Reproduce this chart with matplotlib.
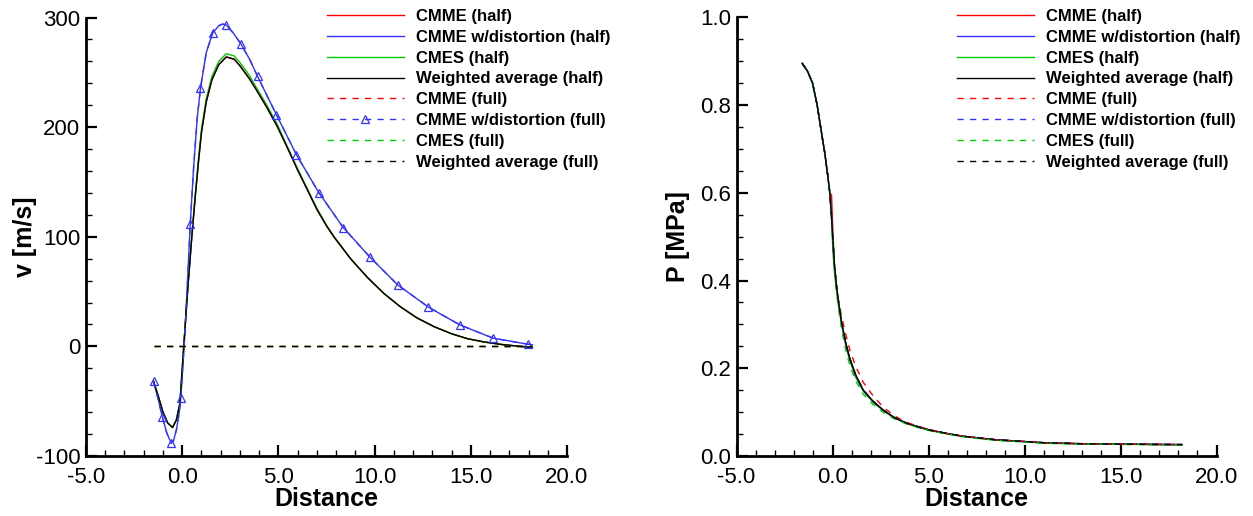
import matplotlib
matplotlib.use("Agg")
import matplotlib.pyplot as plt
from matplotlib.ticker import MultipleLocator, FormatStrFormatter

plt.rcParams['font.family'] = ['Liberation Sans', 'DejaVu Sans']
plt.rcParams['axes.unicode_minus'] = False
plt.rcParams['lines.scale_dashes'] = False

# ---------------- data: velocity ----------------
labels = ["CMME (half)", "CMME w/distortion (half)", "CMES (half)", "Weighted average (half)",
          "CMME (full)", "CMME w/distortion (full)", "CMES (full)", "Weighted average (full)"]

v_x = [-1.49, -1.25, -1.0, -0.75, -0.5, -0.3, -0.12, 0.08, 0.3, 0.5, 0.68, 0.85, 1.0, 1.25, 1.54,
       1.9, 2.29, 2.7, 3.0, 3.5, 3.89, 4.4, 4.93, 5.5, 5.97, 6.5, 7.0, 7.5, 7.88, 8.75, 9.62,
       10.5, 11.35, 12.2, 13.09, 14.0, 14.83, 15.7, 16.56, 17.4, 18.2]
v_wavg_half = [-32, -45, -60, -70, -74, -67, -52, 0, 55, 100, 137, 169, 195, 223, 243,
               257, 264, 262, 256, 244, 233, 218, 201, 180, 162, 143, 125, 110, 100, 80, 63,
               48, 36, 26, 18, 11.5, 7, 4, 1.8, 0.3, -1]
v_cmme_half = [-32, -45, -60, -70, -74, -67, -52, 0, 55, 100, 137, 169, 195, 223, 243,
               257, 264, 262, 256, 244, 233, 218, 201, 180, 162, 143, 125, 110, 100, 80, 63,
               48, 36, 26, 18, 11.5, 7, 4, 1.8, 0.3, -1]
v_cmes_half = [-32, -45, -60, -70, -74, -67, -52, 0, 55, 101, 139, 172, 198, 226, 246,
               260, 267, 265, 259, 247, 235, 220, 203, 181, 163, 144, 126, 110.5, 100.5, 80, 63,
               48, 36, 26, 18, 11.5, 7, 4, 1.8, 0.3, -1]

v_dist_x = [-1.49, -1.25, -1.03, -0.8, -0.57, -0.45, -0.3, -0.15, -0.07, 0.1, 0.25, 0.42, 0.6,
            0.78, 0.95, 1.25, 1.58, 1.9, 2.1, 2.28, 2.65, 3.06, 3.5, 3.92, 4.4, 4.90, 5.94,
            7.10, 8.37, 9.76, 11.2, 12.8, 14.43, 16.16, 17.95, 18.2]
v_dist = [-32, -48, -64.6, -79, -88.3, -86, -76, -60, -46.7, 0, 50, 112, 165,
          208, 235.6, 268, 285.8, 292.5, 294, 293.3, 286, 275.7, 262, 246.2, 229, 211.2, 174.7,
          140.3, 108.4, 81.4, 56.1, 35.8, 19.6, 7.5, 2.0, 1.5]
v_dist_marker_x = [-1.49, -1.03, -0.57, -0.07, 0.42, 0.95, 1.58, 2.28, 3.06, 3.92, 4.90, 5.94,
                   7.10, 8.37, 9.76, 11.2, 12.8, 14.43, 16.16, 17.95]

v_full_x = [-1.49, 18.2]
v_full_zero = [0, 0]

# ---------------- data: pressure ----------------
P_x = [-1.58, -1.3, -1.04, -0.8, -0.57, -0.4, -0.25, -0.14, -0.05, 0.03, 0.1, 0.2, 0.3, 0.47, 0.7,
       0.9, 1.2, 1.6, 2.1, 2.63, 3.2, 3.85, 4.5, 5.07, 6.0, 6.8, 8.5, 10.0, 11.1, 13.0, 15.0,
       16.5, 18.2]
P_wavg = [0.895, 0.877, 0.850, 0.80, 0.736, 0.69, 0.64, 0.60, 0.545, 0.485, 0.435, 0.39, 0.355, 0.305, 0.255,
          0.222, 0.185, 0.150, 0.125, 0.105, 0.088, 0.075, 0.066, 0.059, 0.051, 0.045, 0.037, 0.033,
          0.030, 0.028, 0.027, 0.0265, 0.026]
P_cmme_half = [0.895, 0.877, 0.850, 0.80, 0.736, 0.69, 0.64, 0.60, 0.595, 0.50, 0.44, 0.39, 0.355, 0.305, 0.255,
               0.222, 0.185, 0.150, 0.125, 0.105, 0.088, 0.075, 0.066, 0.059, 0.051, 0.045, 0.037, 0.033,
               0.030, 0.028, 0.027, 0.0265, 0.026]
P_cmes_half = [0.895, 0.877, 0.852, 0.80, 0.738, 0.69, 0.64, 0.60, 0.54, 0.46, 0.42, 0.38, 0.345, 0.30, 0.25,
               0.217, 0.18, 0.148, 0.123, 0.104, 0.087, 0.074, 0.065, 0.058, 0.050, 0.044, 0.036, 0.032,
               0.029, 0.0275, 0.0265, 0.026, 0.0255]
P_cmme_full = [0.895, 0.877, 0.850, 0.80, 0.736, 0.69, 0.64, 0.60, 0.545, 0.485, 0.435, 0.392, 0.36, 0.318, 0.275,
               0.242, 0.205, 0.168, 0.138, 0.112, 0.092, 0.077, 0.067, 0.060, 0.051, 0.045, 0.037, 0.033,
               0.030, 0.028, 0.027, 0.0265, 0.026]
P_cmes_full = [0.895, 0.877, 0.850, 0.80, 0.736, 0.69, 0.64, 0.60, 0.54, 0.475, 0.425, 0.38, 0.34, 0.29, 0.24,
               0.207, 0.172, 0.141, 0.118, 0.100, 0.085, 0.073, 0.064, 0.058, 0.050, 0.044, 0.036, 0.032,
               0.029, 0.0275, 0.0265, 0.026, 0.0255]

# ---------------- styles ----------------
RED, BLUE, GREEN, BLACK = '#ff0000', '#3333ff', '#00cc00', '#000000'
LW = 1.0
DASH = (4.5, 4.5)

fig = plt.figure(figsize=(12.53, 5.16), dpi=100)
W, H = 1253.0, 516.0
axL = fig.add_axes([86 / W, 60 / H, 481 / W, 438.5 / H])
axR = fig.add_axes([736.5 / W, 60 / H, 480 / W, 438.7 / H])

marker_idx = [i for i, x in enumerate(v_dist_x) if x in v_dist_marker_x]

# velocity
axL.plot(v_x, v_cmme_half, color=RED, lw=LW, label=labels[0])
axL.plot(v_dist_x, v_dist, color=BLUE, lw=LW, label=labels[1])
axL.plot(v_x, v_cmes_half, color=GREEN, lw=LW, label=labels[2])
axL.plot(v_x, v_wavg_half, color=BLACK, lw=LW, label=labels[3])
axL.plot(v_full_x, v_full_zero, color=RED, lw=LW, dashes=DASH, label=labels[4])
axL.plot(v_dist_x, v_dist, color=BLUE, lw=LW, dashes=DASH, marker='^', ms=6, mfc='none',
         mec=BLUE, mew=0.9, markevery=marker_idx, label=labels[5])
axL.plot(v_full_x, v_full_zero, color=GREEN, lw=LW, dashes=DASH, label=labels[6])
axL.plot(v_full_x, v_full_zero, color=BLACK, lw=LW, dashes=DASH, label=labels[7])

# pressure
axR.plot(P_x, P_cmme_half, color=RED, lw=LW, label=labels[0])
axR.plot(P_x, P_wavg, color=BLUE, lw=LW, label=labels[1])
axR.plot(P_x, P_cmes_half, color=GREEN, lw=LW, label=labels[2])
axR.plot(P_x, P_wavg, color=BLACK, lw=LW, label=labels[3])
axR.plot(P_x, P_cmme_full, color=RED, lw=LW, dashes=DASH, label=labels[4])
axR.plot(P_x, P_wavg, color=BLUE, lw=LW, dashes=DASH, label=labels[5])
axR.plot(P_x, P_cmes_full, color=GREEN, lw=LW, dashes=DASH, label=labels[6])
axR.plot(P_x, P_wavg, color=BLACK, lw=LW, dashes=DASH, label=labels[7])

for ax in (axL, axR):
    ax.set_xlim(-5, 20)
    ax.spines['top'].set_visible(False)
    ax.spines['right'].set_visible(False)
    ax.spines['left'].set_linewidth(2)
    ax.spines['bottom'].set_linewidth(2)
    ax.xaxis.set_major_locator(MultipleLocator(5))
    ax.xaxis.set_minor_locator(MultipleLocator(1))
    ax.xaxis.set_major_formatter(FormatStrFormatter('%.1f'))
    ax.tick_params(which='major', direction='in', length=8, width=1.6, labelsize=16)
    ax.tick_params(which='minor', direction='in', length=4, width=1)
    ax.tick_params(axis='y', which='major', pad=4)
    ax.tick_params(axis='x', which='major', pad=8)
    ax.tick_params(top=False, right=False, which='both')
    ax.set_xlabel('Distance', fontsize=18, fontweight='bold', labelpad=-1)

axL.set_ylim(-100, 300)
axL.yaxis.set_major_locator(MultipleLocator(100))
axL.yaxis.set_minor_locator(MultipleLocator(20))
axL.set_ylabel('v [m/s]', fontsize=18, fontweight='bold')
axL.yaxis.set_label_coords(-0.102, 0.5)

axR.set_ylim(0, 1.0)
axR.yaxis.set_major_locator(MultipleLocator(0.2))
axR.yaxis.set_minor_locator(MultipleLocator(0.05))
axR.yaxis.set_major_formatter(FormatStrFormatter('%.1f'))
axR.set_ylabel('P [MPa]', fontsize=18, fontweight='bold')
axR.yaxis.set_label_coords(-0.097, 0.5)

for ax, x0 in ((axL, 327), (axR, 957)):
    ax.legend(loc='upper left', bbox_to_anchor=(x0 / W, 1 - 9 / H), bbox_transform=fig.transFigure,
              frameon=False, borderpad=0, borderaxespad=0, handlelength=4.6, handletextpad=0.75,
              labelspacing=0.35, numpoints=1, prop={'family': 'Liberation Sans', 'weight': 'bold', 'size': 12})

fig.savefig('out.png', dpi=100)
